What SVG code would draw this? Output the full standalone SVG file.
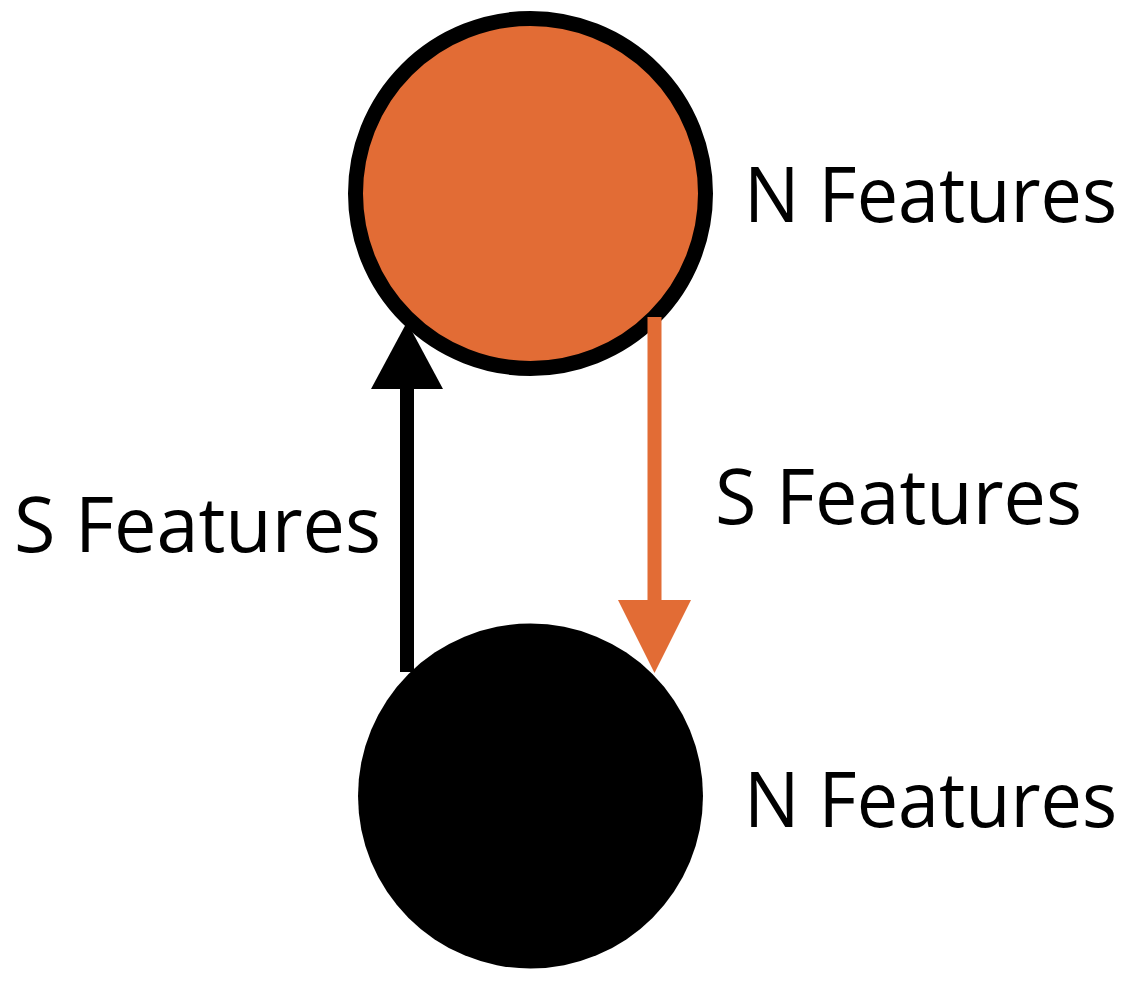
<svg xmlns="http://www.w3.org/2000/svg" width="1148" height="997" viewBox="0 0 1148 997">
<style>
.lbl{font-family:"Open Sans","Noto Sans","Liberation Sans",sans-serif;font-size:76px;fill:#000}
.blk{stroke:#000;stroke-width:14;fill:none}
.org{stroke:#E26C35;stroke-width:14;fill:none}
</style>
<rect width="1148" height="997" fill="#fff"/>
<g id="node-top">
<circle cx="530.5" cy="193.5" r="175" fill="#E26C35" stroke="#000" stroke-width="15"/>
<text class="lbl" x="744" y="222" textLength="373" lengthAdjust="spacingAndGlyphs">N Features</text>
</g>
<g id="node-bottom">
<circle cx="530.5" cy="796" r="172.5" fill="#000"/>
<text class="lbl" x="744" y="827" textLength="373" lengthAdjust="spacingAndGlyphs">N Features</text>
</g>
<g id="connectors">
<g id="edge-up">
<line class="blk" x1="407" y1="672" x2="407" y2="385"/>
<polygon points="407,322 443,389 371,389" fill="#000"/>
<text class="lbl" x="14" y="552" textLength="367" lengthAdjust="spacingAndGlyphs">S Features</text>
</g>
<g id="edge-down">
<line class="org" x1="654.5" y1="317" x2="654.5" y2="604"/>
<polygon points="654.5,673 691,600 618,600" fill="#E26C35"/>
<text class="lbl" x="715" y="524" textLength="367" lengthAdjust="spacingAndGlyphs">S Features</text>
</g>
</g>
</svg>
